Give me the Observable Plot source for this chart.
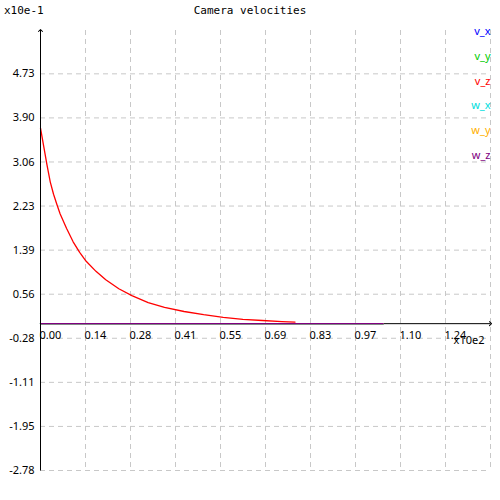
<!DOCTYPE html>
<html><head><meta charset="utf-8">
<script src="https://cdn.jsdelivr.net/npm/d3@7"></script>
<script src="https://cdn.jsdelivr.net/npm/@observablehq/plot@0.6"></script>
<style>body{margin:0;background:#fff}</style>
</head><body><div id="c"></div>
<script>
const series = ["v_x","v_y","v_z","w_x","w_y","w_z"];
const colors = ["#0000ff","#00cc00","#ff0000","#00dddd","#ffb000","#800080"];
// v_z samples (x in frames, y in m/s)
const vzX = [0,1,2,3,4,5,6,8,10,12,14,17,20,24,28,33,38,44,50,56,62,68,74,78];
const vzY = [0.370,0.335,0.300,0.268,0.245,0.226,0.208,0.180,0.155,0.135,0.118,0.099,0.083,0.066,0.053,0.040,0.031,0.023,0.017,0.012,0.008,0.006,0.004,0.003];
const zeroEnd = 105;
const xTickLabels = ["0.00","0.14","0.28","0.41","0.55","0.69","0.83","0.97","1.10","1.24"];
const yTickLabels = ["-2.78","-1.95","-1.11","-0.28","0.56","1.39","2.23","3.06","3.90","4.73"];
const xStep = 13.79, yStep = 0.08344;
const xTicks = xTickLabels.map((d,i)=>i*xStep);
const xGrid = [...xTicks, 10*xStep];
const yTicks = yTickLabels.map((d,i)=>-0.278+i*yStep);

const rows = [];
series.forEach(s=>{
  if (s==="v_z") vzX.forEach((x,i)=>rows.push({s,x,y:vzY[i]}));
  else [0,zeroEnd].forEach(x=>rows.push({s,x,y:0}));
});
const order = ["v_x","v_y","w_x","w_y","v_z","w_z"];
const font = "DejaVu Sans Mono";
const marks = [
  Plot.ruleX(xGrid,{x:d=>d,stroke:"#c8c8c8",strokeDasharray:"5,4"}),
  Plot.ruleY(yTicks,{y:d=>d,stroke:"#c8c8c8",strokeDasharray:"5,4"}),
  Plot.link([0],{x1:0,x2:10*xStep,y1:0,y2:0,stroke:"black",markerEnd:"arrow"}),
  ...order.map(s=>Plot.line(rows.filter(r=>r.s===s),{x:"x",y:"y",stroke:colors[series.indexOf(s)],strokeWidth:1.3})),
  Plot.link([0],{x1:0,x2:0,y1:-0.278,y2:0.555,stroke:"black",markerEnd:"arrow"}),
  Plot.text(xTicks,{x:d=>d,y:0,text:(d,i)=>xTickLabels[i],textAnchor:"start",dy:12,dx:-1,fontSize:11}),
  Plot.text(yTicks,{x:0,y:d=>d,text:(d,i)=>yTickLabels[i],textAnchor:"end",dx:-6,fontSize:11}),
  Plot.text(["x10e2"],{x:10*xStep,y:0,text:d=>d,textAnchor:"end",dy:17,dx:-6,fontSize:11}),
  ...series.map((s,i)=>Plot.text([s],{frameAnchor:"top-right",text:d=>d,fill:colors[i],dy:-3+i*24.7,dx:0,fontSize:11}))
];
const plot = Plot.plot({
  width:500,height:460,marginLeft:40,marginRight:10,marginTop:10,marginBottom:10,
  style:{fontFamily:font,fontSize:"11px",overflow:"visible"},
  x:{domain:[0,10*xStep],axis:null},
  y:{domain:[-0.278,0.555],axis:null},
  marks
});
const wrap = document.createElement("div");
wrap.style.cssText="position:relative;width:500px;height:500px;font-family:'DejaVu Sans Mono';font-size:11px";
const t = document.createElement("div");
t.textContent="Camera velocities";
t.style.cssText="position:absolute;top:4px;left:0;width:500px;text-align:center";
const u = document.createElement("div");
u.textContent="x10e-1";
u.style.cssText="position:absolute;top:4px;left:4px";
plot.style.cssText="position:absolute;top:20px;left:0";
wrap.append(plot,t,u);
document.getElementById("c").append(wrap);
</script></body></html>
